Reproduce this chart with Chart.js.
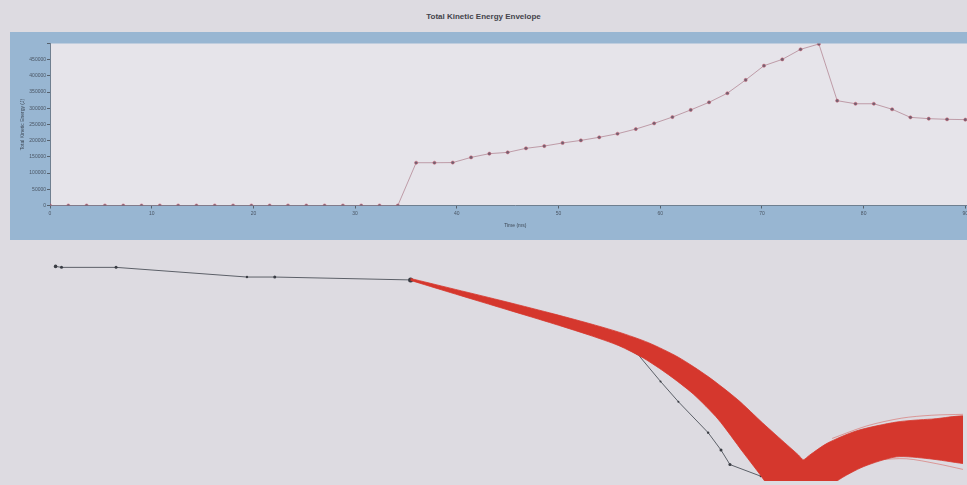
<!DOCTYPE html>
<html>
<head>
<meta charset="utf-8">
<title>Total Kinetic Energy Envelope</title>
<script src="https://cdn.jsdelivr.net/npm/chart.js@4"></script>
<style>
html, body {
    margin: 0;
    padding: 0;
    width: 967px;
    height: 485px;
    overflow: hidden;
    background: #dddbe1;
    font-family: Arial, "Liberation Sans", sans-serif;
}
#title {
    position: absolute;
    left: 0;
    top: 12px;
    width: 967px;
    text-align: center;
    font-size: 8px;
    font-weight: bold;
    color: #44444c;
}
#energyPanel {
    position: absolute;
    left: 10px;
    top: 32px;
    width: 990px;
    height: 208px;
    background: #98b6d2;
}
#pathPanel {
    position: absolute;
    left: 0;
    top: 245px;
    width: 967px;
    height: 240px;
}
</style>
</head>
<body>
<div id="title">Total Kinetic Energy Envelope</div>
<div id="energyPanel"><canvas id="energyChart" width="990" height="208"></canvas></div>
<div id="pathPanel"><canvas id="pathChart" width="967" height="240"></canvas></div>

<script>
// sample times (ms) and total kinetic energy (J) per sample
const timeMs = [
    0, 1.8, 3.6, 5.4, 7.2, 9, 10.8, 12.6, 14.4, 16.2,
    18, 19.8, 21.6, 23.4, 25.2, 27, 28.8, 30.6, 32.4, 34.2,
    36, 37.8, 39.6, 41.4, 43.2, 45, 46.8, 48.6, 50.4, 52.2,
    54, 55.8, 57.6, 59.4, 61.2, 63, 64.8, 66.6, 68.4, 70.2,
    72, 73.8, 75.6, 77.4, 79.2, 81, 82.8, 84.6, 86.4, 88.2,
    90
];
const kineticEnergy = [
    0, 0, 0, 0, 0, 0, 0, 0, 0, 0,
    0, 0, 0, 0, 0, 0, 0, 0, 0, 0,
    132000, 132000, 132500, 148500, 160000, 164000, 176500, 183500, 193000, 201000,
    210500, 221500, 236000, 253500, 273000, 295000, 318500, 346500, 387500, 431500,
    451000, 482000, 498500, 323500, 314000, 314000, 297000, 272000, 268000, 266000,
    265000
];
const energyTickStep = 50000;
const energyMax = 500000;
const timeTickStep = 10;

// body path (distance m, height m)
const pathX = [5.2, 5.8, 11.3, 24.5, 27.3, 41.0, 52.0, 60.0, 64.0, 66.2, 68.0, 71.0, 72.3, 73.2, 76.3, 79.0];
const pathY = [22.2, 22.1, 22.1, 21.1, 21.1, 20.8, 18.0, 15.5, 13.0, 10.3, 8.2, 5.0, 3.2, 1.7, 0.5, -0.8];

// envelope of the perturbed runs: upper edge left to right, then lower edge right to left
const envelopeTopX = [41.0, 45.0, 50.0, 55.0, 59.0, 62.0, 65.0, 68.0, 71.0, 74.0, 76.5, 79.0, 80.1, 80.6, 81.2, 83.0, 86.0, 90.0, 93.5, 98.0];
const envelopeTopY = [20.95, 19.95, 18.7, 17.4, 16.3, 15.4, 14.3, 12.8, 10.8, 8.4, 6.0, 3.7, 2.7, 2.2, 2.65, 3.9, 5.2, 6.1, 6.4, 6.5];
const envelopeBottomX = [98.0, 96.7, 93.3, 90.0, 86.7, 84.0, 82.0, 77.5, 76.7, 74.5, 72.0, 69.5, 67.0, 64.5, 62.0, 59.0, 55.0, 50.0, 45.0, 41.0];
const envelopeBottomY = [1.6, 1.8, 2.3, 2.5, 1.5, 0.0, -2.0, -1.5, 0.0, 3.0, 6.4, 9.0, 11.0, 12.7, 14.0, 15.1, 16.4, 17.95, 19.5, 20.75];

// stray runs leaving the envelope near the right edge
const strayHighX = [83.5, 87.0, 90.5, 93.5, 96.7];
const strayHighY = [4.4, 5.7, 6.5, 6.8, 6.9];
const strayLowX = [88.0, 91.0, 94.0, 96.7];
const strayLowY = [2.2, 2.3, 1.8, 1.2];

// fills the chart area behind the data
const plotBackground = {
    id: 'plotBackground',
    beforeDraw(chart, args, opts) {
        const { ctx, chartArea: a } = chart;
        ctx.save();
        ctx.fillStyle = opts.color;
        ctx.fillRect(a.left, a.top, a.right - a.left, a.bottom - a.top);
        ctx.restore();
    }
};

new Chart(document.getElementById('energyChart'), {
    type: 'line',
    data: {
        datasets: [{
            label: 'Total Kinetic Energy',
            data: timeMs.map((t, i) => ({ x: t, y: kineticEnergy[i] })),
            borderColor: 'rgba(170,120,135,0.85)',
            borderWidth: 0.8,
            pointRadius: 1.6,
            pointBorderWidth: 0.6,
            pointBackgroundColor: '#6e6272',
            pointBorderColor: 'rgba(210,90,110,0.8)',
            tension: 0
        }]
    },
    options: {
        responsive: false,
        animation: false,
        layout: { padding: { top: 11.5, right: 19.4, bottom: 0, left: 0 } },
        plugins: {
            legend: { display: false },
            tooltip: { enabled: false },
            plotBackground: { color: '#e6e4ea' }
        },
        scales: {
            x: {
                type: 'linear',
                min: 0,
                max: 91.5,
                border: { color: '#6f7f90' },
                grid: { drawOnChartArea: false, tickLength: 3, color: '#56616d' },
                ticks: {
                    stepSize: timeTickStep,
                    includeBounds: false,
                    maxRotation: 0,
                    padding: 2,
                    color: '#4a5563',
                    font: { size: 5 }
                },
                title: {
                    display: true,
                    text: 'Time (ms)',
                    color: '#3e4956',
                    font: { size: 5 },
                    padding: { top: 0, bottom: 11 }
                },
                afterFit(scale) { scale.height = 34.5; }
            },
            y: {
                min: 0,
                max: energyMax,
                border: { color: '#6f7f90' },
                grid: { drawOnChartArea: false, tickLength: 3, color: '#56616d' },
                ticks: {
                    stepSize: energyTickStep,
                    padding: 1,
                    color: '#4a5563',
                    font: { size: 5 },
                    callback: v => (v === energyMax ? '' : v)
                },
                title: {
                    display: true,
                    text: 'Total Kinetic Energy (J)',
                    color: '#3e4956',
                    font: { size: 5 },
                    padding: { top: 10, bottom: 0 }
                },
                afterFit(scale) { scale.width = 40; }
            }
        }
    },
    plugins: [plotBackground]
});

const toPoints = (xs, ys) => xs.map((x, i) => ({ x, y: ys[i] }));
const envelope = toPoints(envelopeTopX, envelopeTopY).concat(toPoints(envelopeBottomX, envelopeBottomY));

new Chart(document.getElementById('pathChart'), {
    type: 'scatter',
    data: {
        datasets: [{
            label: 'Envelope',
            data: envelope,
            showLine: true,
            fill: 'shape',
            tension: 0.25,
            backgroundColor: '#d5372d',
            borderColor: '#d5372d',
            borderWidth: 0.8,
            pointRadius: 0,
            order: 1
        }, {
            label: 'Stray high',
            data: toPoints(strayHighX, strayHighY),
            showLine: true,
            tension: 0.3,
            borderColor: 'rgba(213,55,45,0.6)',
            borderWidth: 0.7,
            pointRadius: 0,
            order: 1
        }, {
            label: 'Stray low',
            data: toPoints(strayLowX, strayLowY),
            showLine: true,
            tension: 0.3,
            borderColor: 'rgba(213,55,45,0.6)',
            borderWidth: 0.7,
            pointRadius: 0,
            order: 1
        }, {
            label: 'Path',
            data: toPoints(pathX, pathY),
            showLine: true,
            borderColor: '#5c6068',
            borderWidth: 1,
            pointRadius: [1.8, 1.5, 1.5, 1.2, 1.5, 2.5, 0, 0, 0, 1, 1, 1.2, 1.5, 1.5, 1, 0],
            pointBackgroundColor: '#3a3d44',
            pointBorderWidth: 0,
            order: 2
        }]
    },
    options: {
        responsive: false,
        animation: false,
        layout: { padding: 0 },
        plugins: { legend: { display: false }, tooltip: { enabled: false } },
        scales: {
            x: { type: 'linear', display: false, min: 0, max: 96.7 },
            y: { type: 'linear', display: false, min: 0, max: 24 }
        }
    }
});
</script>
</body>
</html>
